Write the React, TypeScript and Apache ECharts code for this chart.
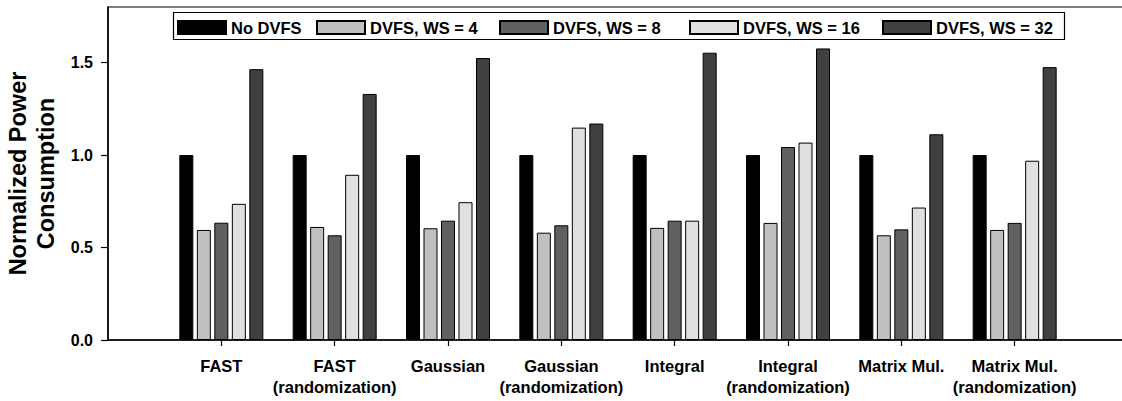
import React, { useEffect, useRef } from "react";
import * as echarts from "echarts";

// Benchmarks (padded with an empty slot at each end of the axis)
const categories = [
  "FAST",
  "FAST\n(randomization)",
  "Gaussian",
  "Gaussian\n(randomization)",
  "Integral",
  "Integral\n(randomization)",
  "Matrix Mul.",
  "Matrix Mul.\n(randomization)",
];

const seriesNames = ["No DVFS", "DVFS, WS = 4", "DVFS, WS = 8", "DVFS, WS = 16", "DVFS, WS = 32"];

const noDvfs = [1.0, 1.0, 1.0, 1.0, 1.0, 1.0, 1.0, 1.0];
const ws4 = [0.595, 0.611, 0.604, 0.58, 0.606, 0.633, 0.566, 0.595];
const ws8 = [0.634, 0.566, 0.645, 0.62, 0.645, 1.043, 0.598, 0.633];
const ws16 = [0.736, 0.893, 0.745, 1.148, 0.645, 1.067, 0.716, 0.969];
const ws32 = [1.464, 1.33, 1.524, 1.17, 1.553, 1.576, 1.112, 1.475];

const yTicks = [0, 0.5, 1.0, 1.5];

const FONT = "'Liberation Sans', Arial, Helvetica, sans-serif";
const fills = ["#000000", "#c0c0c0", "#606060", "#e0e0e0", "#404040"];
const legendLeft = [177, 316, 499, 689, 882];

export default function App() {
  const ref = useRef<HTMLDivElement>(null);

  useEffect(() => {
    if (!ref.current) return;
    const chart = echarts.init(ref.current, undefined, { renderer: "svg" });
    const values = [noDvfs, ws4, ws8, ws16, ws32];

    chart.setOption({
      animation: false,
      backgroundColor: "#ffffff",
      grid: {
        left: 108,
        top: 7,
        width: 1020,
        height: 333,
        outerBoundsMode: "none",
        containLabel: false,
        show: true,
        borderColor: "#000",
        borderWidth: 1.2,
        backgroundColor: "transparent",
      },
      legend: seriesNames.map((name, i) => ({
        data: [name],
        left: legendLeft[i],
        top: 19,
        padding: 0,
        itemWidth: 48,
        itemHeight: 13,
        itemGap: 0,
        icon: "rect",
        selectedMode: false,
        textStyle: {
          fontFamily: FONT,
          fontWeight: "bold",
          fontSize: 16.5,
          lineHeight: 16,
          color: "#000",
        },
      })),
      graphic: [
        {
          type: "rect",
          z: 0,
          shape: { x: 173.5, y: 12.5, width: 891, height: 27 },
          style: { fill: "none", stroke: "#000", lineWidth: 1.2 },
        },
      ],
      xAxis: {
        type: "category",
        data: ["", ...categories, ""],
        boundaryGap: false,
        axisLine: { lineStyle: { color: "#000", width: 1.5 } },
        axisTick: {
          interval: (i: number) => i >= 1 && i <= categories.length,
          length: 6,
          lineStyle: { color: "#000", width: 1.2 },
        },
        axisLabel: {
          interval: 0,
          margin: 15,
          fontFamily: FONT,
          fontWeight: "bold",
          fontSize: 16.5,
          lineHeight: 21,
          color: "#000",
          verticalAlign: "top",
        },
        splitLine: { show: false },
      },
      yAxis: {
        type: "value",
        min: 0,
        max: 1.8,
        name: "Normalized Power\nConsumption",
        nameLocation: "middle",
        nameGap: 43,
        nameTextStyle: {
          fontFamily: FONT,
          fontWeight: "bold",
          fontSize: 23.5,
          lineHeight: 28,
          color: "#000",
          align: "center",
        },
        axisLine: { show: true, lineStyle: { color: "#000", width: 1.5 } },
        axisTick: {
          show: true,
          length: 7,
          customValues: yTicks,
          lineStyle: { color: "#000", width: 1.2 },
        },
        axisLabel: {
          margin: 15,
          customValues: yTicks,
          formatter: (v: number) => v.toFixed(1),
          fontFamily: FONT,
          fontWeight: "bold",
          fontSize: 16,
          color: "#000",
        },
        splitLine: { show: false },
      },
      series: seriesNames.map((name, i) => ({
        name,
        type: "bar",
        data: [null, ...values[i], null],
        barWidth: 14,
        barGap: "25%",
        itemStyle: {
          color: fills[i],
          borderColor: "#000",
          borderWidth: 1,
        },
      })),
    });

    return () => chart.dispose();
  }, []);

  return (
    <div
      ref={ref}
      style={{ position: "absolute", left: 0, top: 0, width: 1122, height: 401 }}
    />
  );
}
